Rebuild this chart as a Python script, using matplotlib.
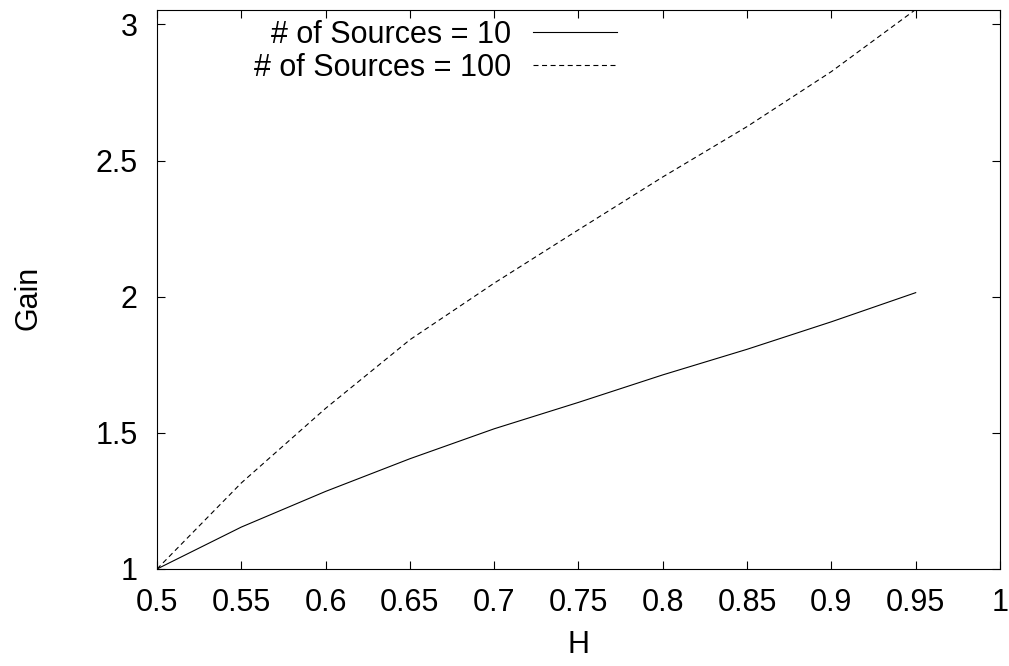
import matplotlib
matplotlib.use('Agg')
import matplotlib.pyplot as plt

# H values and gain for each number of sources
h_values = [0.5, 0.55, 0.6, 0.65, 0.7, 0.75, 0.8, 0.85, 0.9, 0.95]
gain_10 = [1.0, 1.154, 1.285, 1.405, 1.515, 1.612, 1.713, 1.807, 1.908, 2.015]
gain_100 = [1.0, 1.316, 1.59, 1.842, 2.05, 2.246, 2.44, 2.625, 2.827, 3.055]

x_ticks = [0.5, 0.55, 0.6, 0.65, 0.7, 0.75, 0.8, 0.85, 0.9, 0.95, 1]
x_tick_labels = ['0.5', '0.55', '0.6', '0.65', '0.7', '0.75', '0.8', '0.85', '0.9', '0.95', '1']
y_ticks = [1, 1.5, 2, 2.5, 3]
y_tick_labels = ['1', '1.5', '2', '2.5', '3']

plt.rcParams['font.family'] = ['Liberation Sans', 'DejaVu Sans']
plt.rcParams['font.size'] = 22

W, H = 1009, 666
fig = plt.figure(figsize=(W / 100, H / 100), dpi=100)
ax = fig.add_axes([157 / W, (H - 569) / H, 843 / W, (569 - 9.5) / H])

ax.plot(h_values, gain_10, color='black', linewidth=0.8, label='# of Sources = 10')
ax.plot(h_values, gain_100, color='black', linewidth=0.8, dashes=(4.5, 3.2),
        label='# of Sources = 100')

ax.set_xlim(0.5, 1)
ax.set_ylim(1, max(gain_100))
ax.set_xticks(x_ticks)
ax.set_xticklabels(x_tick_labels)
ax.set_yticks(y_ticks)
ax.set_yticklabels(y_tick_labels)

# gnuplot style: inward ticks mirrored on all sides
ax.tick_params(direction='in', length=6, width=0.8, top=True, right=True, pad=14)
for spine in ax.spines.values():
    spine.set_linewidth(0.8)

ax.set_xlabel('H')
ax.set_ylabel('Gain')
ax.xaxis.set_label_coords(578 / W, (H - 660) / H, transform=fig.transFigure)
ax.yaxis.set_label_coords(28 / W, (H - 298) / H, transform=fig.transFigure)
ax.xaxis.label.set_va('bottom')
ax.yaxis.label.set_va('center')

ax.legend(loc='upper right', bbox_to_anchor=(617 / W, (H - 20) / H),
          bbox_transform=fig.transFigure, frameon=False, markerfirst=False,
          handlelength=2.75, handletextpad=0.7, labelspacing=0.1,
          borderpad=0, borderaxespad=0)

fig.savefig('out.png', dpi=100)
